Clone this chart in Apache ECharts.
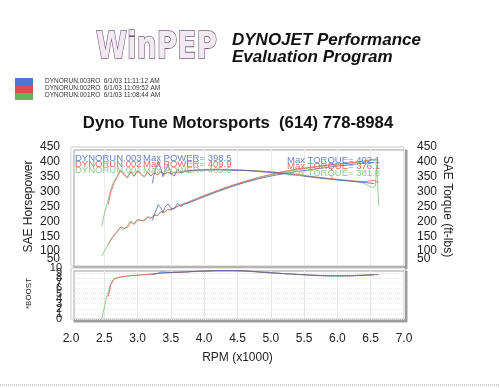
<!DOCTYPE html>
<html>
<head>
<meta charset="utf-8">
<script src="https://cdn.jsdelivr.net/npm/echarts@6/dist/echarts.min.js"></script>
<style>
html,body{margin:0;padding:0;background:#fff;}
#chart{width:500px;height:388px;}
</style>
</head>
<body>
<div id="chart"></div>
<script>
// ---- data ----
const xTicks = [2.0, 2.5, 3.0, 3.5, 4.0, 4.5, 5.0, 5.5, 6.0, 6.5, 7.0];
const runNames = ['DYNORUN.003RO  6/1/03 11:11:12 AM', 'DYNORUN.002RO  6/1/03 11:09:52 AM', 'DYNORUN.001RO  6/1/03 11:08:44 AM'];
const powerNotes = ['DYNORUN.003  Max POWER= 398.5', 'DYNORUN.002  Max POWER= 409.9', 'DYNORUN.001  Max POWER= 405.6'];
const torqueNotes = ['Max TORQUE= 402.1', 'Max TORQUE= 376.1', 'Max TORQUE= 381.8'];

// run 001 (green)
const rpm001 = [2.46,2.50,2.54,2.59,2.64,2.69,2.74,2.78,2.84,2.89,2.94,3.00,3.05,3.10,3.15,3.20,3.25,3.30,3.35,3.40,3.45,3.50,3.55,3.60,3.70,3.80,3.90,4.00,4.20,4.40,4.60,4.80,5.00,5.20,5.40,5.60,5.80,6.00,6.20,6.38,6.46,6.53,6.57,6.59,6.62];
const power001 = [84,100,116,134,150,163,180,172,184,200,192,207,203,204,216,212,222,220,233,230,240,238,246,250,258,267,276,285,302,318,332,345,356,366,373,380,386,391,396,400,402,404,405,402,398];
const torque001 = [184,225,257,301,334,351,373,360,346,368,351,372,360,350,366,352,364,356,368,358,366,360,367,362,368,370,372,373,374,373,372,370,367,363,357,351,345,340,336,330,320,313,318,388,253];
const boost001 = [0,2.2,4.5,6.8,7.8,8.1,8.2,8.3,8.4,8.5,8.55,8.6,8.65,8.7,8.75,8.8,8.85,8.9,9.0,9.05,9.1,9.1,9.15,9.15,9.2,9.25,9.3,9.35,9.45,9.5,9.4,9.2,9.0,8.9,8.75,8.6,8.55,8.5,8.5,8.6,8.65,8.7,8.7,8.7,8.7];

// run 002 (red)
const rpm002 = [2.56,2.60,2.65,2.70,2.75,2.80,2.85,2.90,2.95,3.00,3.05,3.10,3.15,3.20,3.25,3.30,3.35,3.40,3.45,3.50,3.60,3.70,3.80,3.90,4.00,4.20,4.40,4.60,4.80,5.00,5.20,5.40,5.60,5.80,6.00,6.20,6.40,6.55,6.62];
const power002 = [122,140,155,168,182,176,180,198,190,205,203,201,214,210,220,219,232,230,240,239,251,260,269,278,287,304,320,334,347,358,368,376,382,388,393,397,403,409,406];
const torque002 = [257,300,330,352,372,358,347,366,352,370,358,350,365,353,363,357,366,359,365,361,365,369,371,373,374,375,374,372,369,366,362,357,351,346,341,337,333,338,330];
const boost002 = [4.4,6.8,7.8,8.1,8.25,8.35,8.4,8.5,8.55,8.6,8.65,8.7,8.75,8.8,8.85,8.9,8.95,9.0,9.05,9.1,9.15,9.2,9.3,9.35,9.4,9.5,9.5,9.45,9.25,9.05,8.9,8.75,8.6,8.5,8.5,8.5,8.6,8.7,8.7];

// run 003 (blue)
const rpm003 = [3.22,3.26,3.31,3.35,3.38,3.42,3.46,3.50,3.55,3.60,3.65,3.70,3.80,3.90,4.00,4.20,4.40,4.60,4.80,5.00,5.20,5.40,5.60,5.80,6.00,6.20,6.40,6.55];
const power003 = [203,228,256,246,230,250,259,243,242,260,250,258,265,274,283,300,316,330,342,352,361,368,374,380,386,391,396,398];
const torque003 = [328,370,402,375,350,372,392,360,352,374,362,368,370,372,373,373,372,371,368,364,360,355,349,344,339,335,331,327];
const boost003 = [8.8,8.85,9.0,9.2,9.25,9.15,9.1,9.1,9.15,9.15,9.2,9.2,9.3,9.35,9.4,9.5,9.5,9.45,9.25,9.1,8.9,8.75,8.6,8.45,8.4,8.45,8.55,8.65];

// ---- styles ----
const FONT = 'Liberation Sans, Arial, sans-serif';
const colBlue = '#5262a8', colRed = '#d9605c', colGreen = '#78c276';
const noteBlue = '#6a80c0', noteRed = '#e06a66', noteGreen = '#8ccc88';

function pairs(xs, ys){ return xs.map((x,i)=>[x, ys[i]]); }

const runs = [
  {rpm: rpm001, p: power001, t: torque001, b: boost001, c: colGreen},
  {rpm: rpm002, p: power002, t: torque002, b: boost002, c: colRed},
  {rpm: rpm003, p: power003, t: torque003, b: boost003, c: colBlue}
];

const series = [];
runs.forEach(r => {
  const ls = {color: r.c, width: 1, opacity: 0.8};
  series.push({type:'line', xAxisIndex:0, yAxisIndex:0, data: pairs(r.rpm, r.p), showSymbol:false, lineStyle: ls, itemStyle:{color:r.c}, silent:true, animation:false});
  series.push({type:'line', xAxisIndex:0, yAxisIndex:1, data: pairs(r.rpm, r.t), showSymbol:false, lineStyle: ls, itemStyle:{color:r.c}, silent:true, animation:false});
  series.push({type:'line', xAxisIndex:1, yAxisIndex:2, data: pairs(r.rpm, r.b), showSymbol:false, lineStyle: ls, itemStyle:{color:r.c}, silent:true, animation:false});
});

const lowRich = {s: {fontSize: 12, fontFamily: FONT, color: '#222', padding: [0,0,14,0]}};
const labelBase = {fontSize:12, fontFamily:FONT, color:'#222', hideOverlap:false};
const nameStyle = {fontSize:12, fontFamily:FONT, color:'#222'};
const hidden = {axisLine:{show:false}, axisTick:{show:false}, splitLine:{show:false}};

const gridStyle = {show:true, backgroundColor:'#fff', borderColor:'#c8c8c8', borderWidth:1,
  shadowColor:'rgba(150,150,150,0.9)', shadowBlur:0, shadowOffsetX:3, shadowOffsetY:3};

const legendGraphics = [
  {type:'rect', shape:{x:15,y:78,width:18,height:7}, style:{fill:'#4a78d0'}},
  {type:'rect', shape:{x:15,y:85,width:18,height:8}, style:{fill:'#e04a48'}},
  {type:'rect', shape:{x:15,y:93,width:18,height:7}, style:{fill:'#5cb85c'}}
];
runNames.forEach((n,i)=>{
  legendGraphics.push({type:'text', x:45, y:81.5 + i*7, style:{text:n, fontSize:6.5, fontFamily:FONT, fill:'#333', verticalAlign:'middle'}});
});

const noteCols = [noteBlue, noteRed, noteGreen];
const noteGraphics = [];
powerNotes.forEach((n,i)=>{
  const parts = n.split('  ');
  noteGraphics.push({type:'text', x:75, y:158.5 + i*5.8, z:100, style:{text:parts[0], fontSize:9.5, fontFamily:FONT, fill:noteCols[i], verticalAlign:'middle'}});
  noteGraphics.push({type:'text', x:143, y:158.5 + i*5.8, z:100, style:{text:parts[1], fontSize:9.5, fontFamily:FONT, fill:noteCols[i], verticalAlign:'middle'}});
});
torqueNotes.forEach((n,i)=>{
  noteGraphics.push({type:'text', x:287, y:160 + i*6.5, z:100, style:{text:n, fontSize:9.5, fontFamily:FONT, fill:noteCols[i], verticalAlign:'middle'}});
});

const option = {
  backgroundColor: '#fff',
  animation: false,
  grid: [
    Object.assign({left:71, right:96, top:147, height:119}, gridStyle),
    Object.assign({left:71, right:96, top:268, height:51}, gridStyle)
  ],
  xAxis: [
    {type:'value', gridIndex:0, min:2, max:7, interval:0.5,
      axisLine:{show:false}, axisTick:{show:false}, axisLabel:{show:false},
      splitLine:{show:true, lineStyle:{color:'#ececec', width:1}}},
    {type:'value', gridIndex:1, min:2, max:7, interval:0.5,
      axisLine:{show:false}, axisTick:{show:false},
      axisLabel:Object.assign({}, labelBase, {formatter: v => v.toFixed(1), margin:14, showMinLabel:true, showMaxLabel:true}),
      splitLine:{show:true, lineStyle:{color:'#e6e6e6', width:1}},
      name:'RPM (x1000)', nameLocation:'middle', nameGap:33, nameMoveOverlap:false,
      nameTextStyle:nameStyle}
  ],
  yAxis: [
    // 0: horsepower (left) labels 100..450
    Object.assign({type:'value', gridIndex:0, min:50, max:450, interval:50, position:'left',
      axisLabel:Object.assign({}, labelBase, {margin:11, showMinLabel:false, showMaxLabel:true}),
      name:'SAE Horsepower', nameLocation:'middle', nameGap:36, nameMoveOverlap:false,
      nameTextStyle:nameStyle}, hidden),
    // 1: torque (right) labels 100..450
    Object.assign({type:'value', gridIndex:0, min:50, max:450, interval:50, position:'right',
      axisLabel:Object.assign({}, labelBase, {margin:13, showMinLabel:false, showMaxLabel:true}),
      name:'SAE Torque (ft-lbs)', nameLocation:'middle', nameGap:37, nameRotate:-90, nameMoveOverlap:false,
      nameTextStyle:nameStyle}, hidden),
    // 2: boost
    Object.assign({type:'value', gridIndex:1, min:0, max:10, interval:1, position:'left',
      axisLabel:Object.assign({}, labelBase, {fontSize:11, margin:9, showMinLabel:true, showMaxLabel:true}),
      name:'*BOOST', nameLocation:'middle', nameGap:38, nameMoveOverlap:false,
      nameTextStyle:{fontSize:8, fontFamily:FONT, color:'#222'}}, hidden,
      {splitLine:{show:true, interval:1, lineStyle:{color:'#e8e8e8', type:'dotted'}}}),
    // 3: left "50" label (crowded, lifted like the printout)
    Object.assign({type:'value', gridIndex:0, min:50, max:450, interval:50, position:'left',
      axisLabel:Object.assign({}, labelBase, {margin:11, showMinLabel:true, showMaxLabel:false,
        formatter: v => v === 50 ? '{s|50}' : '', rich: lowRich})}, hidden),
    // 4: right "50" label
    Object.assign({type:'value', gridIndex:0, min:50, max:450, interval:50, position:'right',
      axisLabel:Object.assign({}, labelBase, {margin:13, showMinLabel:true, showMaxLabel:false,
        formatter: v => v === 50 ? '{s|50}' : '', rich: lowRich})}, hidden),
    // 5: boost labels 1 and 9 that crowd the ends
    Object.assign({type:'value', gridIndex:1, min:0, max:10, interval:1, position:'left',
      axisLabel:Object.assign({}, labelBase, {fontSize:11, margin:9, showMinLabel:false, showMaxLabel:false,
        formatter: v => (v === 1 || v === 9) ? String(v) : ''})}, hidden)
  ],
  series: series,
  graphic: [
    // WinPEP logo
    {type:'text', x:96, y:29, scaleX:0.74, scaleY:1, z:10,
      style:{text:'WinPEP', fontSize:38, fontWeight:900, fontFamily:'DejaVu Sans, sans-serif',
        fill:'#f2eaf2', stroke:'#7a5a7a', lineWidth:1.6, shadowColor:'#e060d8', shadowBlur:10}},
    {type:'text', x:232, y:32, style:{text:'DYNOJET Performance', fontSize:17, fontWeight:'bold', fontStyle:'italic', fontFamily:FONT, fill:'#111'}},
    {type:'text', x:232, y:49, style:{text:'Evaluation Program', fontSize:17, fontWeight:'bold', fontStyle:'italic', fontFamily:FONT, fill:'#111'}},
    {type:'text', x:238, y:123, style:{text:'Dyno Tune Motorsports  (614) 778-8984', fontSize:16.7, fontWeight:'bold', fontFamily:FONT, fill:'#111', align:'center', verticalAlign:'middle'}},
    {type:'line', shape:{x1:0,y1:385,x2:500,y2:385}, style:{stroke:'#9a9a9a', lineWidth:1, lineDash:[1,1]}}
  ].concat(legendGraphics, noteGraphics)
};

const chart = echarts.init(document.getElementById('chart'), null, {renderer:'canvas'});
chart.setOption(option);
</script>
</body>
</html>
